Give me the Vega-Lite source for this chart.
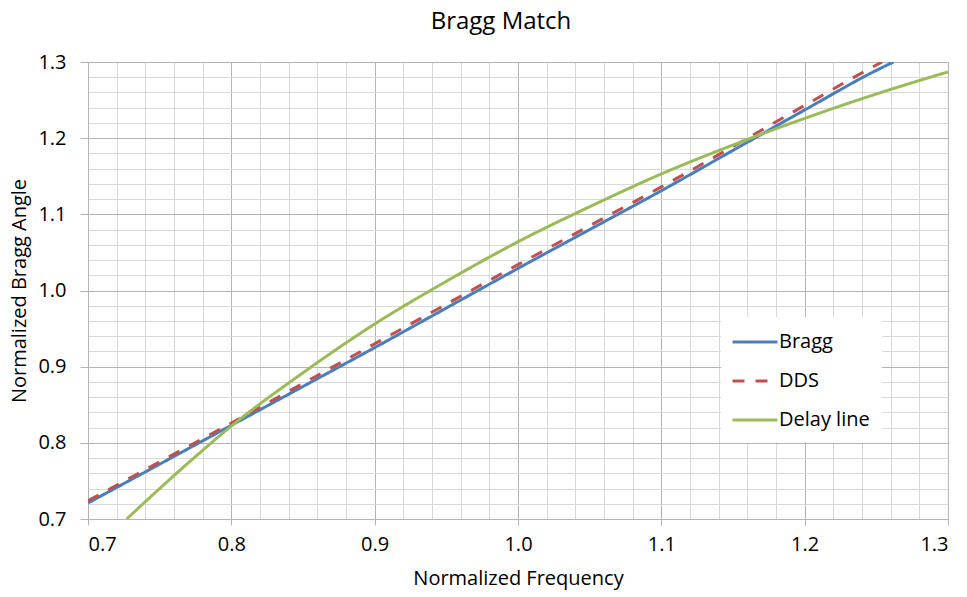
{
  "$schema": "https://vega.github.io/schema/vega-lite/v6.json",
  "width": 860,
  "height": 457,
  "autosize": {"type": "none"},
  "padding": {"left": 88, "top": 62, "right": 19, "bottom": 78},
  "background": "white",
  "config": {"view": {"stroke": null}, "font": "Open Sans"},
  "title": {"text": "Bragg Match", "fontSize": 24, "font": "Open Sans", "fontWeight": "normal", "color": "#000000", "anchor": "middle", "dx": -17, "offset": 18},
  "data": {"values": [
    {"f": 0.70, "angle": 0.721, "series": "Bragg"},
    {"f": 0.75, "angle": 0.772, "series": "Bragg"},
    {"f": 0.80, "angle": 0.823, "series": "Bragg"},
    {"f": 0.85, "angle": 0.874, "series": "Bragg"},
    {"f": 0.90, "angle": 0.925, "series": "Bragg"},
    {"f": 0.95, "angle": 0.977, "series": "Bragg"},
    {"f": 1.00, "angle": 1.029, "series": "Bragg"},
    {"f": 1.05, "angle": 1.080, "series": "Bragg"},
    {"f": 1.10, "angle": 1.131, "series": "Bragg"},
    {"f": 1.15, "angle": 1.184, "series": "Bragg"},
    {"f": 1.20, "angle": 1.237, "series": "Bragg"},
    {"f": 1.25, "angle": 1.289, "series": "Bragg"},
    {"f": 1.262, "angle": 1.300, "series": "Bragg"},
    {"f": 0.70, "angle": 0.724, "series": "DDS"},
    {"f": 0.75, "angle": 0.775, "series": "DDS"},
    {"f": 0.80, "angle": 0.826, "series": "DDS"},
    {"f": 0.85, "angle": 0.878, "series": "DDS"},
    {"f": 0.90, "angle": 0.930, "series": "DDS"},
    {"f": 0.95, "angle": 0.982, "series": "DDS"},
    {"f": 1.00, "angle": 1.034, "series": "DDS"},
    {"f": 1.05, "angle": 1.085, "series": "DDS"},
    {"f": 1.10, "angle": 1.136, "series": "DDS"},
    {"f": 1.15, "angle": 1.189, "series": "DDS"},
    {"f": 1.20, "angle": 1.243, "series": "DDS"},
    {"f": 1.25, "angle": 1.296, "series": "DDS"},
    {"f": 1.254, "angle": 1.300, "series": "DDS"},
    {"f": 0.727, "angle": 0.700, "series": "Delay line"},
    {"f": 0.75, "angle": 0.740, "series": "Delay line"},
    {"f": 0.775, "angle": 0.782, "series": "Delay line"},
    {"f": 0.80, "angle": 0.822, "series": "Delay line"},
    {"f": 0.85, "angle": 0.892, "series": "Delay line"},
    {"f": 0.90, "angle": 0.956, "series": "Delay line"},
    {"f": 0.95, "angle": 1.012, "series": "Delay line"},
    {"f": 1.00, "angle": 1.064, "series": "Delay line"},
    {"f": 1.05, "angle": 1.110, "series": "Delay line"},
    {"f": 1.10, "angle": 1.153, "series": "Delay line"},
    {"f": 1.15, "angle": 1.191, "series": "Delay line"},
    {"f": 1.20, "angle": 1.226, "series": "Delay line"},
    {"f": 1.25, "angle": 1.258, "series": "Delay line"},
    {"f": 1.30, "angle": 1.287, "series": "Delay line"}
  ]},
  "layer": [
    {
      "mark": {"type": "line", "opacity": 0},
      "encoding": {
        "x": {"field": "f", "type": "quantitative", "scale": {"domain": [0.7, 1.3], "nice": false, "zero": false},
          "axis": {"orient": "top", "title": null, "labels": false, "ticks": false, "domain": false, "grid": true, "gridColor": "#d9d9d9", "gridWidth": 1,
            "values": [0.72, 0.74, 0.76, 0.78, 0.82, 0.84, 0.86, 0.88, 0.92, 0.94, 0.96, 0.98, 1.02, 1.04, 1.06, 1.08, 1.12, 1.14, 1.16, 1.18, 1.22, 1.24, 1.26, 1.28]}},
        "y": {"field": "angle", "type": "quantitative", "scale": {"domain": [0.7, 1.3], "nice": false, "zero": false},
          "axis": {"orient": "right", "title": null, "labels": false, "ticks": false, "domain": false, "grid": true, "gridColor": "#d9d9d9", "gridWidth": 1,
            "values": [0.72, 0.74, 0.76, 0.78, 0.82, 0.84, 0.86, 0.88, 0.92, 0.94, 0.96, 0.98, 1.02, 1.04, 1.06, 1.08, 1.12, 1.14, 1.16, 1.18, 1.22, 1.24, 1.26, 1.28]}},
        "detail": {"field": "series", "type": "nominal"}
      }
    },
    {
      "mark": {"type": "line", "strokeWidth": 3, "interpolate": "monotone", "clip": true},
      "encoding": {
        "x": {"field": "f", "type": "quantitative", "scale": {"domain": [0.7, 1.3], "nice": false, "zero": false},
          "axis": {"orient": "bottom", "title": "Normalized Frequency", "values": [0.7, 0.8, 0.9, 1.0, 1.1, 1.2, 1.3], "format": ".1f",
            "grid": true, "gridColor": "#b3b3b3", "domainColor": "#b3b3b3", "tickColor": "#b3b3b3", "tickSize": 6,
            "labelFontSize": 20, "labelColor": "#000000", "labelFont": "Open Sans", "labelPadding": 9,
            "titleFontSize": 20, "titleFontWeight": "normal", "titleColor": "#000000", "titleFont": "Open Sans", "titlePadding": 14}},
        "y": {"field": "angle", "type": "quantitative", "scale": {"domain": [0.7, 1.3], "nice": false, "zero": false},
          "axis": {"orient": "left", "title": "Normalized Bragg Angle", "values": [0.7, 0.8, 0.9, 1.0, 1.1, 1.2, 1.3], "format": ".1f",
            "grid": true, "gridColor": "#b3b3b3", "domainColor": "#b3b3b3", "tickColor": "#b3b3b3", "tickSize": 8,
            "labelFontSize": 20, "labelColor": "#000000", "labelFont": "Open Sans", "labelPadding": 14,
            "titleFontSize": 20, "titleFontWeight": "normal", "titleColor": "#000000", "titleFont": "Open Sans", "titlePadding": 8}},
        "color": {"field": "series", "type": "nominal",
          "scale": {"domain": ["Bragg", "DDS", "Delay line"], "range": ["#4A7EBB", "#C0504D", "#9BBB59"]},
          "legend": {"orient": "none", "legendX": 633, "legendY": 255, "title": null, "fillColor": "white", "padding": 12,
            "symbolType": "M-2,0H2", "symbolSize": 506, "symbolStrokeWidth": 3, "symbolOffset": 9, "labelOffset": 11,
            "labelFontSize": 20, "labelColor": "#000000", "labelFont": "Open Sans", "rowPadding": 16}},
        "strokeDash": {"field": "series", "type": "nominal",
          "scale": {"domain": ["Bragg", "DDS", "Delay line"], "range": [[1, 0], [12, 11], [1, 0]]},
          "legend": {"orient": "none", "legendX": 633, "legendY": 255, "title": null, "fillColor": "white", "padding": 12,
            "symbolType": "M-2,0H2", "symbolSize": 506, "symbolStrokeWidth": 3, "symbolOffset": 9, "labelOffset": 11,
            "labelFontSize": 20, "labelColor": "#000000", "labelFont": "Open Sans", "rowPadding": 16}},
        "order": {"field": "f", "type": "quantitative"}
      }
    }
  ],
  "resolve": {"axis": {"x": "independent", "y": "independent"}}
}
